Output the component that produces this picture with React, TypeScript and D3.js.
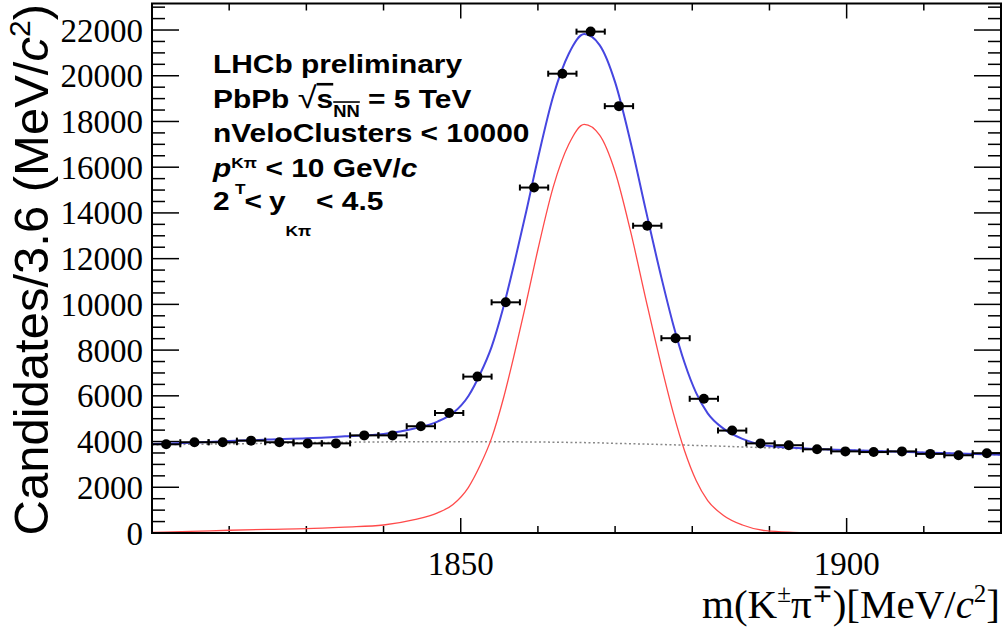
import React from 'react';
import * as d3 from 'd3';

const W = 1005;
const H = 630;
const frame = { left: 152, right: 1001, top: 3.5, bottom: 533 };

// histogram: 30 bins between 1810 and 1920 MeV/c^2
const massLow = 1810;
const massHigh = 1920;
const counts = [
  3880, 3970, 3970, 4040, 3970, 3920, 3920, 4270, 4270, 4670,
  5250, 6840, 10090, 15110, 20090, 21930, 18670, 13440, 8520, 5870,
  4480, 3920, 3840, 3660, 3570, 3540, 3570, 3460, 3400, 3490,
];

// fit components
const fitMass = [
  1810, 1815, 1820, 1825, 1830, 1835, 1840, 1844, 1847, 1849,
  1851, 1852.5, 1854, 1855.5, 1857, 1858.5, 1860, 1862, 1864, 1866,
  1868, 1870, 1872, 1874, 1876, 1877.5, 1879, 1880.5, 1882, 1884,
  1886.5, 1889.5, 1893, 1897, 1903, 1910, 1920,
];
const signalFit = [
  30, 70, 120, 160, 190, 260, 350, 580, 880, 1250,
  2000, 2950, 4150, 5850, 7900, 10100, 12400, 15150, 17000, 17870,
  17400, 15800, 13200, 10200, 7300, 5300, 3600, 2300, 1420, 780,
  350, 100, 30, 5, 0, 0, 0,
];
const backgroundFit = [
  3860, 3880, 3900, 3925, 3950, 3970, 3985, 3992, 3995, 3995,
  3994, 3993, 3991, 3989, 3987, 3984, 3980, 3972, 3963, 3953,
  3942, 3920, 3905, 3890, 3870, 3857, 3845, 3828, 3815, 3795,
  3765, 3730, 3695, 3655, 3595, 3520, 3420,
];

const yMax = 23160;
const yMajor = [0, 2000, 4000, 6000, 8000, 10000, 12000, 14000, 16000, 18000, 20000, 22000];
const xMajor = [1850, 1900];

const x = d3.scaleLinear().domain([massLow, massHigh]).range([frame.left, frame.right]);
const y = d3.scaleLinear().domain([0, yMax]).range([frame.bottom, frame.top]);

const binWidth = (massHigh - massLow) / counts.length;
const points = counts.map((c, i) => ({
  m: massLow + binWidth * (i + 0.5),
  c,
  e: Math.sqrt(c),
}));

const totalFit = signalFit.map((s, i) => s + backgroundFit[i]);

const line = d3
  .line<number>()
  .x((_, i) => x(fitMass[i]))
  .y((d) => y(d))
  .curve(d3.curveMonotoneX);

const xMinor = d3.range(1810, 1921, 10).filter((v) => !xMajor.includes(v));
const yMinor = d3.range(0, yMax, 500).filter((v) => v % 2000 !== 0);

export default function App() {
  const sans = 'Liberation Sans, Arial, Helvetica, sans-serif';
  const serif = 'Liberation Serif, Times New Roman, serif';
  return (
    <svg width={W} height={H} style={{ position: 'absolute', left: 0, top: 0, background: '#fff' }}>
      <defs>
        <clipPath id="frameClip">
          <rect x={frame.left} y={frame.top} width={frame.right - frame.left} height={frame.bottom - frame.top} />
        </clipPath>
      </defs>

      {/* ticks */}
      <g stroke="#000" strokeWidth={1.5}>
        {yMajor.map((v) => (
          <g key={'ym' + v}>
            <line x1={frame.left} x2={frame.left + 27} y1={y(v)} y2={y(v)} />
            <line x1={frame.right} x2={frame.right - 27} y1={y(v)} y2={y(v)} />
          </g>
        ))}
        {yMinor.map((v) => (
          <g key={'yn' + v}>
            <line x1={frame.left} x2={frame.left + 13} y1={y(v)} y2={y(v)} />
            <line x1={frame.right} x2={frame.right - 13} y1={y(v)} y2={y(v)} />
          </g>
        ))}
        {xMajor.map((v) => (
          <g key={'xm' + v}>
            <line x1={x(v)} x2={x(v)} y1={frame.bottom} y2={frame.bottom - 15} />
            <line x1={x(v)} x2={x(v)} y1={frame.top} y2={frame.top + 15} />
          </g>
        ))}
        {xMinor.map((v) => (
          <g key={'xn' + v}>
            <line x1={x(v)} x2={x(v)} y1={frame.bottom} y2={frame.bottom - 7} />
            <line x1={x(v)} x2={x(v)} y1={frame.top} y2={frame.top + 7} />
          </g>
        ))}
      </g>

      {/* fit curves */}
      <g clipPath="url(#frameClip)" fill="none">
        <path d={line(backgroundFit) || ''} stroke="#888" strokeWidth={1.5} strokeDasharray="2,2.5" />
        <path d={line(signalFit) || ''} stroke="#ff4a4a" strokeWidth={1.3} />
        <path d={line(totalFit) || ''} stroke="#4646e0" strokeWidth={2} />
      </g>

      {/* data */}
      <g stroke="#000" strokeWidth={2}>
        {points.map((p, i) => (
          <g key={i}>
            <line x1={x(p.m - binWidth / 2)} x2={x(p.m + binWidth / 2)} y1={y(p.c)} y2={y(p.c)} />
            <line x1={x(p.m - binWidth / 2)} x2={x(p.m - binWidth / 2)} y1={y(p.c) - 3} y2={y(p.c) + 3} />
            <line x1={x(p.m + binWidth / 2)} x2={x(p.m + binWidth / 2)} y1={y(p.c) - 3} y2={y(p.c) + 3} />
            <line x1={x(p.m)} x2={x(p.m)} y1={y(p.c - p.e)} y2={y(p.c + p.e)} />
            <circle cx={x(p.m)} cy={y(p.c)} r={5} fill="#000" stroke="none" />
          </g>
        ))}
      </g>

      {/* frame */}
      <rect
        x={frame.left}
        y={frame.top}
        width={frame.right - frame.left}
        height={frame.bottom - frame.top}
        fill="none"
        stroke="#000"
        strokeWidth={2}
      />

      {/* axis labels */}
      <g fontFamily={serif} fontSize={33} fill="#000">
        {yMajor.map((v) => (
          <text key={'yl' + v} x={frame.left - 9} y={y(v)} dy="0.35em" textAnchor="end">
            {v}
          </text>
        ))}
        {xMajor.map((v) => (
          <text key={'xl' + v} x={x(v)} y={575} textAnchor="middle">
            {v}
          </text>
        ))}
      </g>

      <text x={1000} y={618} textAnchor="end" fontFamily={serif} fontSize={41}>
        m(K<tspan dy={-16} fontSize={25}>±</tspan>
        <tspan dy={16}>π</tspan>
        <tspan dy={-16} fontSize={25}>∓</tspan>
        <tspan dy={16}>)[MeV/</tspan>
        <tspan fontStyle="italic">c</tspan>
        <tspan dy={-16} fontSize={25}>2</tspan>
        <tspan dy={16}>]</tspan>
      </text>

      <text transform="translate(48,4) rotate(-90)" textAnchor="end" fontFamily={sans} fontSize={49}>
        Candidates/3.6 (MeV/<tspan fontStyle="italic">c</tspan>
        <tspan dy={-18} fontSize={30}>2</tspan>
        <tspan dy={18}>)</tspan>
      </text>

      {/* info block */}
      <g transform="translate(213,0) scale(1.15,1)" fontFamily={sans} fontWeight="bold" fontSize={26} fill="#000">
        <text x={0} y={73}>LHCb preliminary</text>
        <text x={0} y={108}>
          PbPb <tspan fontWeight="normal" fontSize={30}>√</tspan>
          <tspan textDecoration="overline">
            s<tspan dy={9} fontSize={16}>NN</tspan>
          </tspan>
          <tspan dy={-9}> = 5 TeV</tspan>
        </text>
        <text x={0} y={142}>nVeloClusters &lt; 10000</text>
        <text x={0} y={177}>
          <tspan fontStyle="italic">p</tspan>
          <tspan dy={-9} fontSize={15}>Kπ</tspan>
          <tspan dx={-19} dy={26} fontSize={15}>T</tspan>
          <tspan dx={10} dy={-17}> &lt; 10 GeV/</tspan>
          <tspan fontStyle="italic">c</tspan>
        </text>
        <text x={0} y={210}>
          2<tspan dx={13}>&lt;</tspan>
          <tspan dx={6}>y</tspan>
          <tspan dy={26} fontSize={15}>Kπ</tspan>
          <tspan dx={-3} dy={-26}> &lt; 4.5</tspan>
        </text>
      </g>
    </svg>
  );
}
